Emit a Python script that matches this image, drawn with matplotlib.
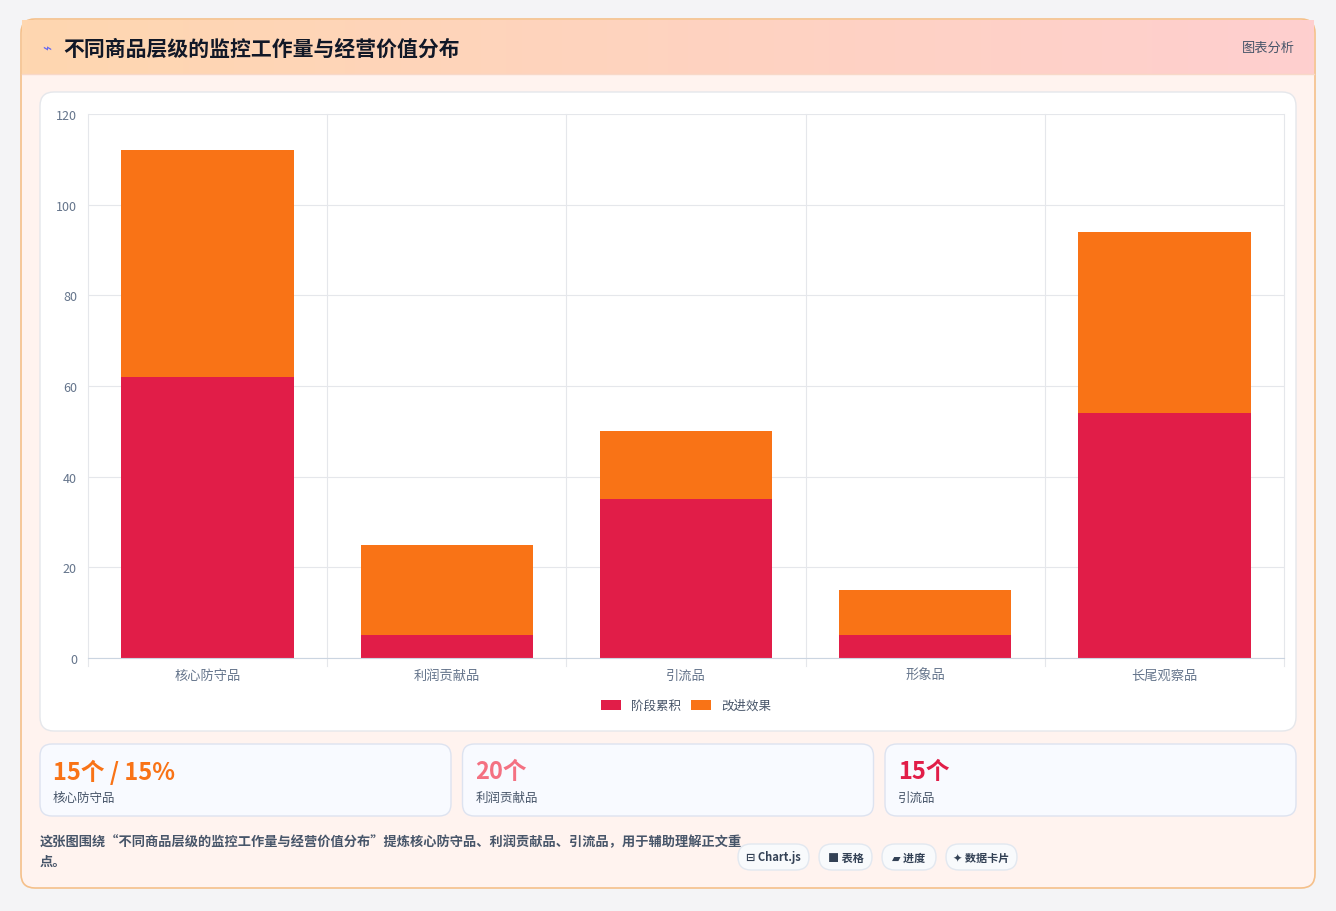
import matplotlib.pyplot as plt
from matplotlib.patches import FancyBboxPatch
import numpy as np

plt.rcParams['font.family'] = ['Noto Sans CJK SC', 'DejaVu Sans']

categories = ['核心防守品', '利润贡献品', '引流品', '形象品', '长尾观察品']
stage_accum = [62, 5, 35, 5, 54]
improve = [50, 20, 15, 10, 40]
series_names = ['阶段累积', '改进效果']
card_values = ['15个 / 15%', '20个', '15个']
card_labels = ['核心防守品', '利润贡献品', '引流品']
card_colors = ['#f97316', '#f47182', '#e11d48']
tags = ['⊟ Chart.js', '■ 表格', '▰ 进度', '✦ 数据卡片']

W, H = 1336, 912
fig = plt.figure(figsize=(W / 100, H / 100), dpi=100)
fig.patch.set_facecolor('#f4f4f6')

bg = fig.add_axes([0, 0, 1, 1])
bg.set_xlim(0, W)
bg.set_ylim(H, 0)
bg.axis('off')

def box(x, y, w, h, fc, ec, r=12, lw=1, z=1):
    bg.add_patch(FancyBboxPatch((x, y), w, h, boxstyle=f'round,pad=0,rounding_size={r}',
                                fc=fc, ec=ec, lw=lw, zorder=z))

# outer card
box(21, 20, 1294, 869, '#fff3ef', '#f5c08a', r=14, lw=1.2)
# header gradient
grad = np.linspace(0, 1, 256).reshape(1, -1)
from matplotlib.colors import LinearSegmentedColormap
cmap = LinearSegmentedColormap.from_list('h', ['#fed7b0', '#fecfcf'])
bg.imshow(grad, cmap=cmap, extent=(22, 1314, 75, 21), aspect='auto', zorder=2)
bg.plot([22, 1314], [75, 75], color='#f8d8c8', lw=1, zorder=3)
bg.text(42, 49, '⌁', fontsize=11, color='#6366f1', va='center', zorder=4)
bg.text(63, 49, '不同商品层级的监控工作量与经营价值分布', fontsize=15, fontweight='bold',
        color='#111827', va='center', zorder=4)
bg.text(1295, 48, '图表分析', fontsize=9.5, color='#475569', va='center', ha='right', zorder=4)

# chart panel
box(40, 93, 1256, 639, 'white', '#e5e7eb', r=14)

# cards
for i, (v, lab, c) in enumerate(zip(card_values, card_labels, card_colors)):
    x = 40 + i * 422.5
    box(x, 745, 411, 72, '#f8faff', '#dde3f0', r=12)
    bg.text(x + 13, 772, v, fontsize=17, fontweight='bold', color=c, va='center')
    bg.text(x + 13, 798, lab, fontsize=9, color='#475569', va='center')

bg.text(40, 842, '这张图围绕“不同商品层级的监控工作量与经营价值分布”提炼核心防守品、利润贡献品、引流品，用于辅助理解正文重',
        fontsize=9.5, color='#475569', va='center', fontweight='bold')
bg.text(40, 862, '点。', fontsize=9.5, color='#475569', va='center', fontweight='bold')
tx = [738, 819, 882, 946]
tw = [71, 53, 54, 71]
for x, w, t in zip(tx, tw, tags):
    box(x, 845, w, 26, '#f8fafc', '#e2e8f0', r=13)
    bg.text(x + w / 2, 858, t, fontsize=8, color='#334155', ha='center', va='center', fontweight='bold')

# chart
ax = fig.add_axes([88 / W, 1 - 659 / H, 1196 / W, 544 / H])
x = np.arange(len(categories))
ax.bar(x, stage_accum, width=0.72, color='#e11d48', label=series_names[0])
ax.bar(x, improve, width=0.72, bottom=stage_accum, color='#f97316', label=series_names[1])
ax.set_xlim(-0.5, len(categories) - 0.5)
ax.set_ylim(0, 120)
ax.set_yticks(range(0, 121, 20))
ax.set_xticks(x)
ax.set_xticklabels(categories)
for b in np.arange(-0.5, len(categories), 1):
    ax.axvline(b, color='#e5e7eb', lw=0.8, zorder=0, ymin=-0.015, clip_on=False)
ax.grid(axis='y', color='#e5e7eb', lw=0.8)
ax.set_axisbelow(True)
for s in ['top', 'right', 'left']:
    ax.spines[s].set_visible(False)
ax.spines['bottom'].set_color('#cbd5e1')
ax.tick_params(length=0, labelsize=9.5, colors='#64748b', pad=8)
ax.tick_params(axis='y', labelsize=9)
ax.legend(loc='upper center', bbox_to_anchor=(0.5, -0.055), ncol=2, frameon=False,
          fontsize=9, handlelength=1.6, handleheight=0.9, columnspacing=0.8,
          labelcolor='#475569')

fig.savefig('out.png', dpi=100, facecolor=fig.get_facecolor())
